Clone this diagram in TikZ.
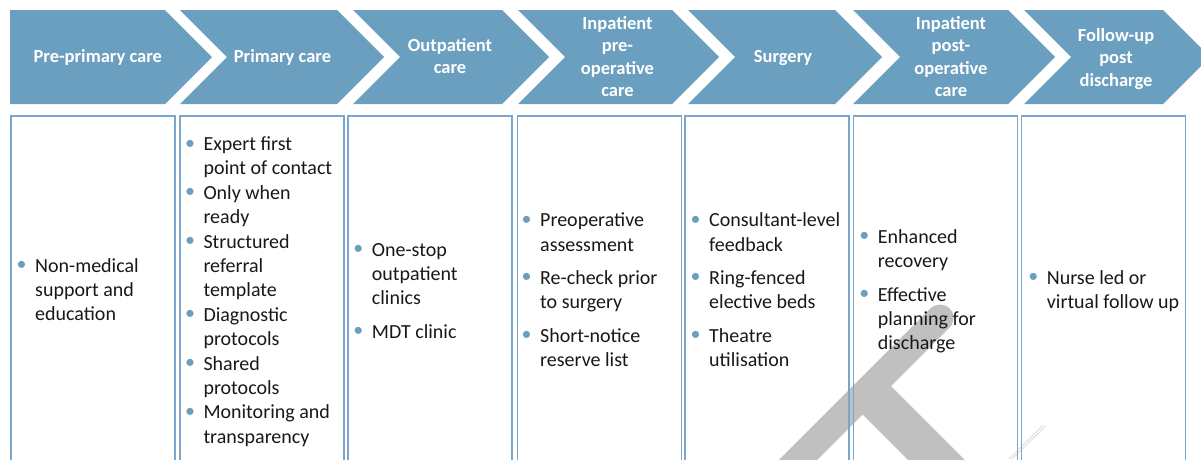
\documentclass[tikz,border=0pt]{standalone}
\usepackage{fontspec}
\setmainfont{Carlito}
\definecolor{chev}{RGB}{106,159,192}
\definecolor{boxln}{RGB}{122,166,204}
\definecolor{wm}{RGB}{192,192,192}
\definecolor{txt}{RGB}{24,24,24}
\newcommand{\bdot}{\makebox[27pt][c]{\textcolor{chev}{\raisebox{1.5pt}{•}}}}
\newcommand{\blist}[1]{\begin{tabular}[t]{@{}l@{}l@{}}#1\end{tabular}}
\newcommand{\hlines}[1]{\begin{tabular}[t]{@{}c@{}}#1\end{tabular}}
\tikzset{
  head/.style={text=white, font=\fontsize{18.5}{22.4}\selectfont\bfseries, inner sep=0pt, anchor=base},
  body/.style={text=txt, font=\fontsize{20}{24.4}\selectfont, inner sep=0pt, anchor=base west},
  boxst/.style={draw=boxln, line width=1.2pt, minimum width=164pt, minimum height=346pt, anchor=north west, inner sep=0pt, outer sep=0pt},
  chevst/.style={fill=chev},
  wmark/.style={draw=wm}
}
\begin{document}
\begin{tikzpicture}[x=1pt,y=-1pt]
\useasboundingbox (0,0) rectangle (1201,459);
% watermark
\begin{scope}
\clip (0,0) rectangle (1201,459);
\coordinate (wtop) at (940,318);
\coordinate (wbot) at (740,518);
\coordinate (wj) at (867.25,390.75);
\coordinate (wend) at (1000,523.5);
\draw[wmark, line width=27pt, line cap=round] (wtop) -- (wbot);
\draw[wmark, line width=40pt] (wj) -- (wend);
\coordinate (t1a) at (1009,459);
\coordinate (t1b) at (1043,425);
\coordinate (t2a) at (1012,459);
\coordinate (t2b) at (1045.5,426);
\draw[wm!80, line width=0.6pt] (t1a) -- (t1b);
\draw[wm!80, line width=0.6pt] (t2a) -- (t2b);
\end{scope}
% chevrons
\fill[chevst] (10,10) -- (165,10) -- (212,57) -- (165,104) -- (10,104) -- cycle;
\foreach \L/\R in {180/337, 353/502, 518/672, 688/835, 853/1008, 1024/1163}{
  \fill[chevst] (\L,10) -- (\R,10) -- (\R+47,57) -- (\R,104) -- (\L,104) -- (\L+47,57) -- cycle;
}
% headings
\node[head] (h1) at (97.8,62.5) {Pre-primary care};
\node[head] (h2) at (282.5,62.5) {Primary care};
\node[head] (h3) at (450,51.2) {\hlines{Outpatient\\ care}};
\node[head] (h4) at (617.5,29.5) {\hlines{Inpatient\\ pre-\\ operative\\ care}};
\node[head] (h5) at (783,62.5) {Surgery};
\node[head] (h6) at (951,29.5) {\hlines{Inpatient\\ post-\\ operative\\ care}};
\node[head] (h7) at (1116,41.2) {\hlines{Follow-up\\ post\\ discharge}};
% boxes
\node[boxst] (b1) at (11,116) {};
\node[boxst] (b2) at (180,116) {};
\node[boxst] (b3) at (348,116) {};
\node[boxst] (b4) at (517.7,116) {};
\node[boxst] (b5) at (685,116) {};
\node[boxst] (b6) at (853.3,116) {};
\node[boxst] (b7) at (1021.7,116) {};
% body text
\node[body] (t1) at (8,272) {\blist{\bdot & Non-medical\\ & support and\\ & education}};
\node[body] (t2) at (176.3,150.5) {\blist{\bdot & Expert first\\ & point of contact\\ \bdot & Only when\\ & ready\\ \bdot & Structured\\ & referral\\ & template\\ \bdot & Diagnostic\\ & protocols\\ \bdot & Shared\\ & protocols\\ \bdot & Monitoring and\\ & transparency}};
\node[body] (t3) at (344.7,256) {\blist{\bdot & One-stop\\ & outpatient\\ & clinics\\[8.9pt] \bdot & MDT clinic}};
\node[body] (t4) at (513,226.7) {\blist{\bdot & Preoperative\\ & assessment\\[8.9pt] \bdot & Re-check prior\\ & to surgery\\[8.9pt] \bdot & Short-notice\\ & reserve list}};
\node[body] (t5) at (682,226.7) {\blist{\bdot & Consultant-level\\ & feedback\\[8.9pt] \bdot & Ring-fenced\\ & elective beds\\[8.9pt] \bdot & Theatre\\ & utilisation}};
\node[body] (t6) at (850.7,243.3) {\blist{\bdot & Enhanced\\ & recovery\\[8.9pt] \bdot & Effective\\ & planning for\\ & discharge}};
\node[body] (t7) at (1019.7,284.3) {\blist{\bdot & Nurse led or\\ & virtual follow up}};
\end{tikzpicture}
\end{document}
